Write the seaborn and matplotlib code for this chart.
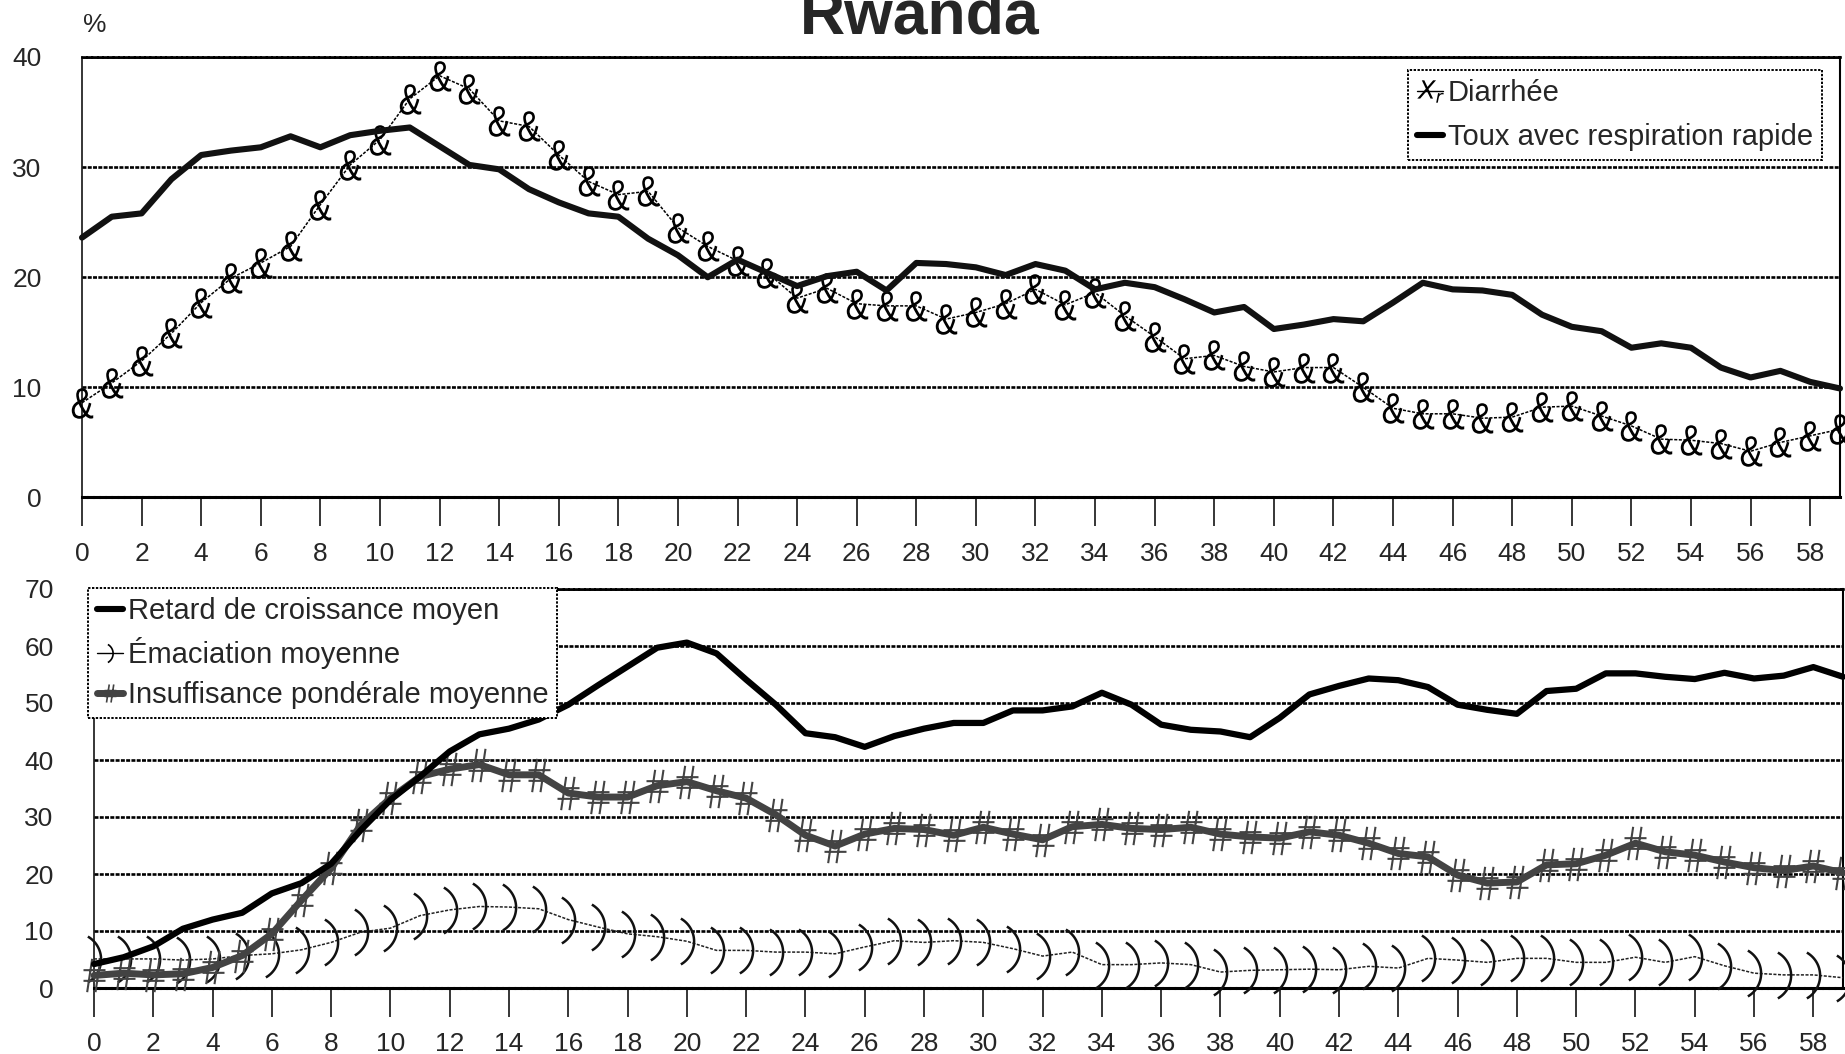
import numpy as np
import matplotlib
matplotlib.use("Agg")
import matplotlib.pyplot as plt
import seaborn as sns
from matplotlib.lines import Line2D
from matplotlib.path import Path
from matplotlib.textpath import TextPath
from matplotlib.font_manager import FontProperties

# months of age
months = list(range(60))

# upper panel (%)
diarrhee = [8.6, 10.4, 12.4, 14.9, 17.7, 19.9, 21.3, 22.8, 26.6, 30.2,
            32.5, 36.2, 38.3, 37.1, 34.2, 33.7, 31.1, 28.7, 27.5, 27.8,
            24.5, 22.8, 21.5, 20.4, 18.1, 19.0, 17.6, 17.4, 17.4, 16.2,
            16.8, 17.6, 18.9, 17.5, 18.6, 16.5, 14.6, 12.6, 12.9, 11.9,
            11.4, 11.8, 11.8, 10.0, 8.1, 7.6, 7.6, 7.2, 7.3, 8.2,
            8.3, 7.4, 6.5, 5.3, 5.2, 4.9, 4.2, 5.0, 5.6, 6.2]
toux = [23.6, 25.5, 25.8, 28.9, 31.1, 31.5, 31.8, 32.8, 31.8, 32.9,
        33.3, 33.6, 31.9, 30.2, 29.8, 28.0, 26.8, 25.8, 25.5, 23.5,
        22.0, 20.0, 21.6, 20.4, 19.2, 20.1, 20.5, 18.8, 21.3, 21.2,
        20.9, 20.2, 21.2, 20.6, 18.9, 19.5, 19.1, 18.0, 16.8, 17.3,
        15.3, 15.7, 16.2, 16.0, 17.7, 19.5, 18.9, 18.8, 18.4, 16.6,
        15.5, 15.1, 13.6, 14.0, 13.6, 11.8, 10.9, 11.5, 10.5, 9.9]

# lower panel (%)
retard = [4.2, 5.4, 7.3, 10.4, 12.0, 13.2, 16.6, 18.4, 21.8, 27.7,
          33.0, 37.1, 41.5, 44.5, 45.5, 47.1, 49.7, 53.1, 56.4, 59.7,
          60.6, 58.7, 54.1, 49.7, 44.7, 44.0, 42.3, 44.2, 45.5, 46.5,
          46.5, 48.7, 48.7, 49.4, 51.8, 49.7, 46.2, 45.3, 45.0, 44.0,
          47.4, 51.5, 53.0, 54.3, 54.0, 52.8, 49.7, 48.8, 48.1, 52.1,
          52.5, 55.2, 55.2, 54.6, 54.2, 55.3, 54.3, 54.8, 56.3, 54.6]
emaciation = [5.1, 5.1, 5.1, 4.9, 5.1, 5.7, 6.0, 6.7, 8.0, 9.8,
              10.5, 12.7, 13.7, 14.3, 14.2, 13.9, 12.0, 10.7, 9.5, 9.0,
              8.2, 6.6, 6.6, 6.3, 6.3, 6.0, 7.2, 8.3, 8.0, 8.3,
              8.0, 6.9, 5.6, 6.3, 4.1, 4.1, 4.4, 4.1, 2.8, 3.1,
              3.2, 3.3, 3.2, 3.8, 3.5, 5.2, 4.9, 4.5, 5.2, 5.2,
              4.5, 4.5, 5.4, 4.5, 5.5, 3.9, 2.6, 2.3, 2.3, 1.8]
insuffisance = [2.2, 2.6, 2.3, 2.5, 3.6, 5.7, 9.5, 15.4, 21.0, 28.6,
                33.3, 37.1, 38.4, 39.2, 37.4, 37.4, 34.2, 33.5, 33.5, 35.5,
                36.2, 34.6, 33.3, 30.4, 26.8, 24.9, 27.0, 28.0, 27.8, 26.8,
                28.2, 27.0, 26.0, 28.3, 28.7, 28.0, 27.8, 28.2, 27.0, 26.5,
                26.3, 27.4, 26.8, 25.4, 23.6, 23.0, 19.8, 18.4, 18.6, 21.6,
                21.8, 23.3, 25.4, 23.9, 23.3, 22.1, 21.1, 20.6, 21.4, 20.2]

sns.set_style("white")
plt.rcParams["font.family"] = ["Liberation Sans", "DejaVu Sans"]


def glyph_marker(ch, sx=1.0):
    # font glyph -> centred marker path
    tp = TextPath((0, 0), ch, size=10, prop=FontProperties(family="Liberation Sans"))
    v = tp.vertices.copy()
    c = tp.codes
    for i in np.where(c == Path.CLOSEPOLY)[0]:
        v[i] = v[i - 1]
    lo = v.min(axis=0)
    hi = v.max(axis=0)
    v = (v - (lo + hi) / 2) * np.array([sx, 1.0])
    return Path(v, c)


amp = glyph_marker("&", 0.8)

# thin ")" arc
th = np.radians(np.linspace(-60, 60, 31))
arc = np.column_stack([np.cos(th), np.sin(th)])
arc[:, 0] -= (arc[:, 0].min() + arc[:, 0].max()) / 2
paren = Path(arc)

# slanted "#"
hash_v = [(-0.22, -0.5), (-0.07, 0.5), (0.03, -0.5), (0.18, 0.5),
          (-0.33, 0.16), (0.33, 0.16), (-0.33, -0.16), (0.33, -0.16)]
hashm = Path(hash_v, [Path.MOVETO, Path.LINETO] * 4)

gray = "#434343"

fig = plt.figure(figsize=(18.45, 10.54), dpi=100)
ax1 = fig.add_axes([82 / 1845, 1 - 497.5 / 1054, (1840 - 82) / 1845, 440.5 / 1054])
ax2 = fig.add_axes([94 / 1845, 1 - 988 / 1054, (1843 - 94) / 1845, 399 / 1054])

# upper
sns.lineplot(x=months, y=diarrhee, ax=ax1, color="black", linewidth=1.1,
             linestyle=(0, (2, 1)), marker=amp, markersize=22,
             markeredgewidth=0, markeredgecolor="black", markerfacecolor="black",
             clip_on=False, zorder=3)
sns.lineplot(x=months, y=toux, ax=ax1, color="#111111", linewidth=4.4,
             clip_on=False, zorder=4)

# lower
sns.lineplot(x=months, y=emaciation, ax=ax2, color="#222222", linewidth=1.1,
             linestyle=(0, (2, 1)), marker=paren, markersize=33,
             markeredgewidth=1.8, markeredgecolor="#111111", markerfacecolor="none",
             clip_on=False, zorder=3)
sns.lineplot(x=months, y=insuffisance, ax=ax2, color=gray, linewidth=5,
             marker=hashm, markersize=24, markeredgewidth=1.5,
             markeredgecolor=gray, markerfacecolor="none", clip_on=False, zorder=4)
sns.lineplot(x=months, y=retard, ax=ax2, color="black", linewidth=4.5,
             clip_on=False, zorder=5)

dots = (0, (1.5, 0.5))
for ax, top in [(ax1, 40), (ax2, 70)]:
    ax.set_xlim(0, 59)
    ax.set_ylim(0, top)
    ax.set_xticks(range(0, 59, 2))
    ax.set_yticks(range(0, top + 1, 10))
    ax.set_xlabel("")
    ax.set_ylabel("")
    ax.set_axisbelow(True)
    ax.yaxis.grid(True, color="black", linestyle=dots, linewidth=1.9)
    ax.xaxis.grid(False)
    ax.tick_params(axis="x", bottom=True, length=21, width=1.1, color="black",
                   direction="out", pad=11, labelsize=19)
    ax.tick_params(axis="y", left=False, length=0, pad=29, labelsize=19)
    ax.spines["left"].set_linestyle((0, (2, 1)))
    ax.spines["left"].set_linewidth(1.1)
    ax.spines["bottom"].set_linestyle(dots)
    ax.spines["bottom"].set_linewidth(2.2)
    ax.spines["top"].set_linestyle(dots)
    ax.spines["top"].set_linewidth(1.9)
    ax.spines["right"].set_linewidth(1.5)
    for s in ax.spines.values():
        s.set_color("black")
        s.set_visible(True)

leg_kw = dict(fontsize=21, handlelength=0.9, handletextpad=0.17, borderpad=0.3,
              frameon=True, fancybox=False, framealpha=1,
              edgecolor="black", borderaxespad=0, bbox_transform=fig.transFigure)

h1 = [Line2D([], [], color="black", lw=1, marker=r"$X_r$", markersize=19,
             markeredgewidth=0, markerfacecolor="black"),
      Line2D([], [], color="black", lw=4.4)]
leg1 = ax1.legend(h1, ["Diarrhée", "Toux avec respiration rapide"], loc="upper right",
                  bbox_to_anchor=(1822 / 1845, 1 - 70 / 1054), labelspacing=0.55,
                  **leg_kw)

h2 = [Line2D([], [], color="black", lw=4.4),
      Line2D([], [], color="black", lw=1, marker=paren, markersize=13,
             markeredgewidth=1.2, markeredgecolor="black", markerfacecolor="none"),
      Line2D([], [], color=gray, lw=5, marker=hashm, markersize=13,
             markeredgewidth=1.2, markeredgecolor=gray, markerfacecolor="none")]
leg2 = ax2.legend(h2, ["Retard de croissance moyen", "Émaciation moyenne",
                       "Insuffisance pondérale moyenne"], loc="upper left",
                  bbox_to_anchor=(88 / 1845, 1 - 588 / 1054), labelspacing=0.42,
                  **leg_kw)
for leg in (leg1, leg2):
    leg.get_frame().set_linestyle((0, (1.2, 0.8)))
    leg.get_frame().set_linewidth(1.4)
    leg.set_zorder(10)

fig.text(920 / 1845, 1 - 33 / 1054, "Rwanda", ha="center", va="baseline",
         fontsize=45, fontweight="bold")
fig.text(95 / 1845, 1 - 25 / 1054, "%", ha="center", va="center", fontsize=19)

fig.savefig("out.png", dpi=100)
